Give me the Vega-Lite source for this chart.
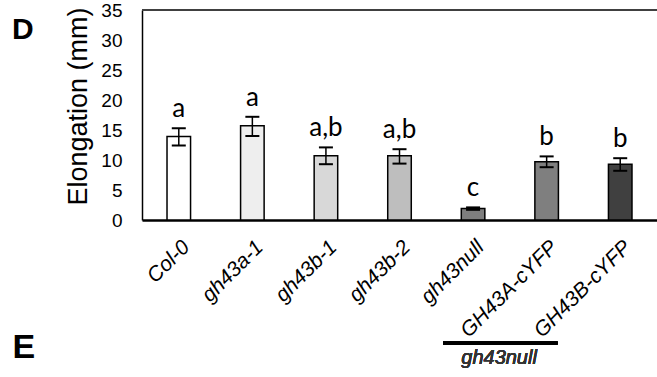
{
  "$schema": "https://vega.github.io/schema/vega-lite/v6.json",
  "width": 515,
  "height": 210,
  "autosize": {"type": "none"},
  "padding": {"left": 142, "top": 10, "right": 0, "bottom": 157},
  "background": "white",
  "config": {
    "view": {"stroke": null},
    "font": "Liberation Sans"
  },
  "title": {
    "text": "D",
    "anchor": "start",
    "frame": "group",
    "orient": "top",
    "font": "Liberation Sans",
    "fontSize": 30,
    "fontWeight": "bold",
    "color": "black",
    "baseline": "top",
    "offset": 0,
    "dx": -130,
    "dy": 44
  },
  "resolve": {"axis": {"y": "independent"}},
  "data": {
    "values": [
      {"genotype": "Col-0", "mean": 13.9, "lo": 12.4, "hi": 15.3, "letter": "a"},
      {"genotype": "gh43a-1", "mean": 15.7, "lo": 14.0, "hi": 17.2, "letter": "a"},
      {"genotype": "gh43b-1", "mean": 10.7, "lo": 9.3, "hi": 12.1, "letter": "a,b"},
      {"genotype": "gh43b-2", "mean": 10.7, "lo": 9.4, "hi": 11.8, "letter": "a,b"},
      {"genotype": "gh43null", "mean": 1.9, "lo": 1.7, "hi": 2.1, "letter": "c"},
      {"genotype": "GH43A-cYFP", "mean": 9.7, "lo": 8.8, "hi": 10.6, "letter": "b"},
      {"genotype": "GH43B-cYFP", "mean": 9.3, "lo": 8.2, "hi": 10.3, "letter": "b"}
    ]
  },
  "layer": [
    {
      "mark": {"type": "bar", "stroke": "black", "strokeWidth": 1.5, "width": {"band": 0.32}},
      "encoding": {
        "x": {
          "field": "genotype",
          "type": "nominal",
          "sort": null,
          "scale": {"paddingInner": 0, "paddingOuter": 0},
          "axis": {
            "title": "E",
            "titleFont": "Liberation Sans",
            "titleFontSize": 34,
            "titleFontWeight": "bold",
            "titleColor": "black",
            "titleX": -130,
            "titleY": 110,
            "titleAlign": "left",
            "titleBaseline": "top",
            "titleAnchor": "start",
            "labelAngle": -45,
            "labelFont": "Liberation Sans",
            "labelFontStyle": "italic",
            "labelFontSize": 21,
            "labelColor": "black",
            "labelPadding": 16,
            "ticks": false,
            "domainColor": "black",
            "domainWidth": 2.5
          }
        },
        "y": {
          "field": "mean",
          "type": "quantitative",
          "scale": {"domain": [0, 35], "nice": false},
          "axis": {
            "title": "Elongation (mm)",
            "titleFont": "Liberation Sans",
            "titleFontSize": 27,
            "titleFontWeight": "normal",
            "titleColor": "black",
            "titlePadding": 8,
            "titleY": 96,
            "values": [0, 5, 10, 15, 20, 25, 30, 35],
            "labelOverlap": false,
            "labelFont": "Liberation Sans",
            "labelFontSize": 19,
            "labelColor": "black",
            "labelPadding": 20,
            "ticks": false,
            "grid": false,
            "domainColor": "black",
            "domainWidth": 1.5
          }
        },
        "color": {
          "field": "genotype",
          "type": "nominal",
          "sort": null,
          "scale": {
            "domain": ["Col-0", "gh43a-1", "gh43b-1", "gh43b-2", "gh43null", "GH43A-cYFP", "GH43B-cYFP"],
            "range": ["#ffffff", "#eeeeee", "#d8d8d8", "#bebebe", "#7f7f7f", "#7f7f7f", "#404040"]
          },
          "legend": null
        }
      }
    },
    {
      "mark": {"type": "rule", "color": "black", "strokeWidth": 1.5},
      "encoding": {
        "x": {"field": "genotype", "type": "nominal", "sort": null},
        "y": {"field": "lo", "type": "quantitative", "axis": null},
        "y2": {"field": "hi"}
      }
    },
    {
      "mark": {"type": "tick", "color": "black", "opacity": 1, "size": 14, "thickness": 2, "orient": "horizontal"},
      "encoding": {
        "x": {"field": "genotype", "type": "nominal", "sort": null},
        "y": {"field": "lo", "type": "quantitative", "axis": null}
      }
    },
    {
      "mark": {"type": "tick", "color": "black", "opacity": 1, "size": 14, "thickness": 2, "orient": "horizontal"},
      "encoding": {
        "x": {"field": "genotype", "type": "nominal", "sort": null},
        "y": {"field": "hi", "type": "quantitative", "axis": null}
      }
    },
    {
      "mark": {"type": "text", "font": "Lato", "fontSize": 26, "color": "black", "baseline": "alphabetic", "dy": -11},
      "encoding": {
        "x": {"field": "genotype", "type": "nominal", "sort": null},
        "y": {"field": "hi", "type": "quantitative", "axis": null},
        "text": {"field": "letter"}
      }
    },
    {
      "mark": {"type": "rule", "color": "#404040", "strokeWidth": 1.5},
      "encoding": {"y": {"datum": 35, "axis": null}}
    },
    {
      "mark": {"type": "rule", "color": "black", "strokeWidth": 3, "clip": false, "xOffset": -30, "x2Offset": 11},
      "encoding": {
        "x": {"datum": "gh43null"},
        "x2": {"datum": "GH43A-cYFP"},
        "y": {"datum": -20.5, "axis": null}
      }
    },
    {
      "mark": {"type": "text", "font": "Liberation Sans", "fontStyle": "italic", "fontSize": 20, "color": "#333333", "baseline": "alphabetic", "clip": false, "xOffset": 26},
      "encoding": {
        "x": {"datum": "gh43null"},
        "y": {"datum": -24, "axis": null},
        "text": {"value": "gh43null"}
      }
    }
  ]
}
